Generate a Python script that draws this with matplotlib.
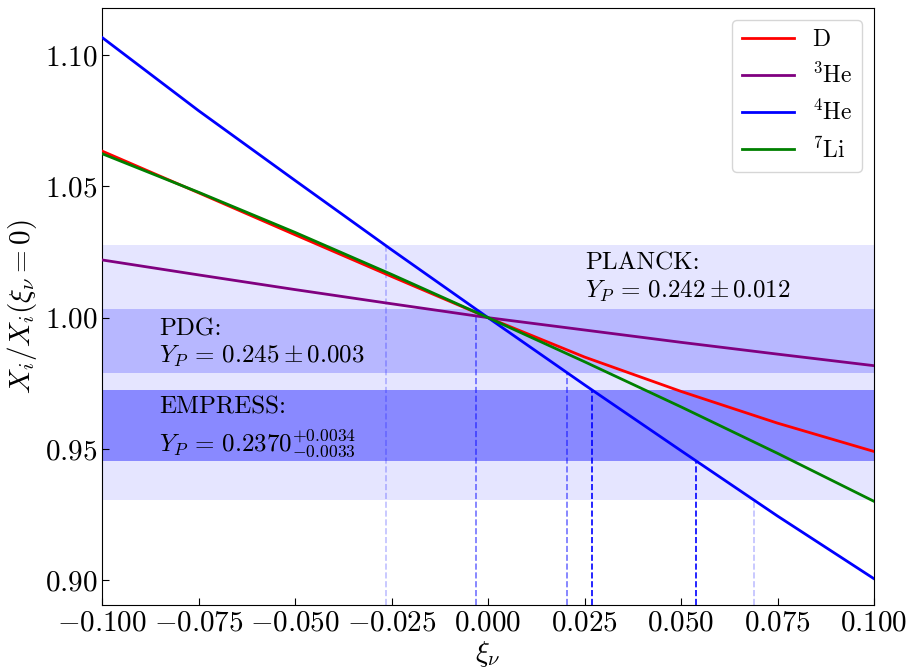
import numpy as np
import matplotlib
matplotlib.use("Agg")
import matplotlib.pyplot as plt

plt.rcParams['font.family'] = 'serif'
plt.rcParams['font.serif'] = ['cmr10']
plt.rcParams['mathtext.fontset'] = 'cm'
plt.rcParams['axes.formatter.use_mathtext'] = True

# values
xi = [-0.1, -0.075, -0.05, -0.025, 0.0, 0.025, 0.05, 0.075, 0.1]
ratio_D = [1.0635, 1.0476, 1.0316, 1.0157, 1.0, 0.9850, 0.9719, 0.9598, 0.949]
ratio_He3 = [1.022, 1.0163, 1.0107, 1.0053, 1.0, 0.9953, 0.9906, 0.9861, 0.9817]
ratio_He4 = [1.1068, 1.0789, 1.0523, 1.0259, 1.0, 0.9744, 0.9493, 0.9244, 0.9005]
ratio_Li7 = [1.0625, 1.0478, 1.0325, 1.0165, 1.0, 0.9832, 0.9660, 0.9483, 0.930]

Yp_ref = 0.2472
# (central, +err, -err)
planck = (0.242, 0.012, 0.012)
pdg = (0.245, 0.003, 0.003)
empress = (0.2370, 0.0034, 0.0033)

fig = plt.figure(figsize=(9.11, 6.71), dpi=100)
ax = fig.add_axes([0.112, 0.0984, 0.8474, 0.8896])

xi_arr = np.array(xi)
he4 = np.array(ratio_He4)
for meas, a_band, a_line in [(planck, 0.1, 0.25), (pdg, 0.2, 0.55), (empress, 0.4, 1.0)]:
    c, up, dn = meas
    lo = (c - dn) / Yp_ref
    hi = (c + up) / Yp_ref
    ax.axhspan(lo, hi, color='blue', alpha=a_band, lw=0, zorder=1)
    for edge in (lo, hi):
        x_cross = np.interp(edge, he4[::-1], xi_arr[::-1])
        ax.vlines(x_cross, 0.8905, edge, colors='blue', alpha=a_line,
                  linestyles='--', lw=1.2, zorder=2)

ax.plot(xi, ratio_D, color='red', lw=2, label='D', zorder=3)
ax.plot(xi, ratio_He3, color='purple', lw=2, label=r'$^3$He', zorder=3)
ax.plot(xi, ratio_He4, color='blue', lw=2, label=r'$^4$He', zorder=3)
ax.plot(xi, ratio_Li7, color='green', lw=2, label=r'$^7$Li', zorder=3)

ax.text(0.0252, 1.0248, 'PLANCK:\n' + r'$Y_P \,=\, 0.242 \pm 0.012$', fontsize=18, va='top')
ax.text(-0.0853, 0.9998, 'PDG:\n' + r'$Y_P \,=\, 0.245 \pm 0.003$', fontsize=18, va='top')
ax.text(-0.0853, 0.9700, 'EMPRESS:\n' + r'$Y_P \,=\, 0.2370^{+0.0034}_{-0.0033}$', fontsize=18,
        va='top', linespacing=1.35)

ax.set_xlim(-0.1, 0.1)
ax.set_ylim(0.8905, 1.118)
ax.set_xticks([-0.1, -0.075, -0.05, -0.025, 0, 0.025, 0.05, 0.075, 0.1])
ax.set_yticks([0.90, 0.95, 1.00, 1.05, 1.10])
ax.xaxis.set_major_formatter(matplotlib.ticker.FormatStrFormatter('$%.3f$'))
ax.yaxis.set_major_formatter(matplotlib.ticker.FormatStrFormatter('$%.2f$'))
ax.tick_params(direction='in', labelsize=21, length=5)
ax.set_xlabel(r'$\xi_\nu$', fontsize=21, labelpad=2)
ax.set_ylabel(r'$X_i/X_i(\xi_\nu = 0)$', fontsize=21, labelpad=4)

ax.legend(loc='upper right', fontsize=17, handlelength=2.2)

fig.savefig('out.png', dpi=100)
